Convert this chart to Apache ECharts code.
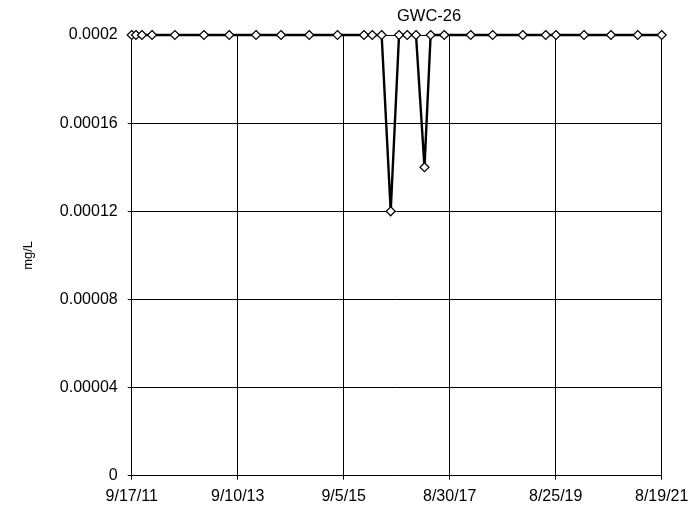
<!DOCTYPE html>
<html>
<head>
<meta charset="utf-8">
<script src="https://cdn.jsdelivr.net/npm/echarts@6/dist/echarts.min.js"></script>
<style>html,body{margin:0;padding:0;background:#fff}#c{width:695px;height:509px}</style>
</head>
<body>
<div id="c"></div>
<script>
const title = 'GWC-26';
const yName = 'mg/L';
const startDate = '2011-09-17';
const endDate = '2021-08-19';
const dates = ['2011-09-17','2011-10-16','2011-11-26','2012-02-03','2012-07-08','2013-01-23','2013-07-15','2014-01-14','2014-07-04','2015-01-13','2015-07-25','2016-01-22','2016-03-19','2016-05-22','2016-07-23','2016-09-18','2016-11-13','2017-01-12','2017-03-11','2017-04-22','2017-07-24','2018-01-21','2018-06-20','2019-01-12','2019-06-18','2019-08-27','2020-03-06','2020-09-06','2021-03-08','2021-08-19'];
const values = [0.0002,0.0002,0.0002,0.0002,0.0002,0.0002,0.0002,0.0002,0.0002,0.0002,0.0002,0.0002,0.0002,0.0002,0.00012,0.0002,0.0002,0.0002,0.00014,0.0002,0.0002,0.0002,0.0002,0.0002,0.0002,0.0002,0.0002,0.0002,0.0002,0.0002];
const yMin = 0, yMax = 0.0002, yStep = 0.00004;
const xTickCount = 5;

const DAY = 86400000;
const t0 = Date.parse(startDate + 'T00:00:00Z');
const dayOf = s => Math.round((Date.parse(s + 'T00:00:00Z') - t0) / DAY);
const xMax = dayOf(endDate);
const data = dates.map((d, i) => [dayOf(d), values[i]]);
const fmtDate = v => {
  const d = new Date(t0 + Math.floor(v + 1e-6) * DAY);
  return (d.getUTCMonth() + 1) + '/' + d.getUTCDate() + '/' + String(d.getUTCFullYear()).slice(2);
};
const font = 'Liberation Sans, Arial, sans-serif';
const chart = echarts.init(document.getElementById('c'));
chart.setOption({
  animation: false,
  backgroundColor: '#fff',
  title: { text: title, left: 392, top: 3,
    textStyle: { fontFamily: font, fontSize: 16.5, fontWeight: 'normal', color: '#000' } },
  grid: { left: 131.7, right: 33.3, top: 35, bottom: 33.3, containLabel: false },
  xAxis: {
    type: 'value', min: 0, max: xMax, interval: xMax / xTickCount,
    axisLine: { lineStyle: { color: '#000', width: 1 } },
    axisTick: { show: true, length: 4, lineStyle: { color: '#000' } },
    splitLine: { show: true, lineStyle: { color: '#000', width: 1 } },
    axisLabel: { formatter: fmtDate, margin: 13, color: '#000', fontFamily: font, fontSize: 16 }
  },
  yAxis: {
    type: 'value', min: yMin, max: yMax, interval: yStep,
    name: yName, nameLocation: 'middle', nameGap: 97, nameRotate: 90,
    nameTextStyle: { fontFamily: font, fontSize: 13, color: '#000' },
    axisLine: { show: true, lineStyle: { color: '#000', width: 1 } },
    axisTick: { show: true, length: 4, lineStyle: { color: '#000' } },
    splitLine: { show: true, lineStyle: { color: '#000', width: 1 } },
    axisLabel: { formatter: v => String(parseFloat(v.toPrecision(6))), margin: 14, color: '#000', fontFamily: font, fontSize: 16 }
  },
  series: [{
    type: 'line', data: data, clip: false,
    lineStyle: { color: '#000', width: 2.4 },
    symbol: 'diamond', symbolSize: 9, showAllSymbol: true,
    itemStyle: { color: '#fff', borderColor: '#000', borderWidth: 1.2 }
  }]
});
</script>
</body>
</html>
